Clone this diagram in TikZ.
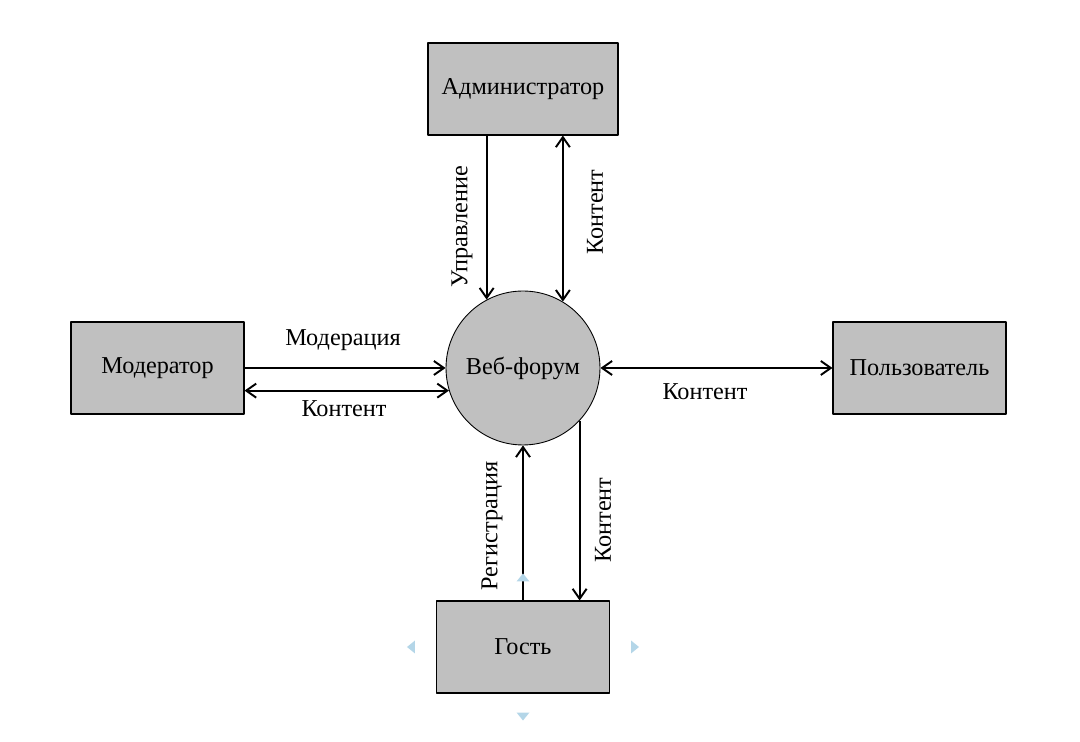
\documentclass[tikz,border=0pt]{standalone}
\usepackage{fontspec}
\setmainfont{Liberation Serif}
\usetikzlibrary{arrows.meta}
\definecolor{boxgray}{RGB}{192,192,192}
\definecolor{handleblue}{RGB}{180,214,232}
\begin{document}
\begin{tikzpicture}[x=0.02cm, y=-0.02cm, font=\fontsize{13.8}{16}\selectfont, line join=round,
	>={Straight Barb[length=2mm,width=2.8mm]},
	actor/.style={draw, fill=boxgray, minimum width=3.46cm, minimum height=1.84cm, line width=0.6pt},
	flow/.style={line width=1.1pt},
	lbl/.style={rotate=90}]
		\useasboundingbox (0,0) rectangle (1080,742);
		\node[actor, minimum width=3.8cm] (admin) at (523,89) {Администратор};
		\node[actor] (moder) at (157.5,368) {Модератор};
		\node[actor] (user) at (919.5,368) {Пользователь};
		\node[actor] (guest) at (523,647) {Гость};
		\node[circle, draw, fill=boxgray, minimum size=3.08cm, inner sep=0pt, line width=0.5pt] (forum) at (523,368) {Веб-форум};
		\draw[flow,->] (admin.south -| forum.118.7) -- (forum.118.7);
		\draw[flow,<->] (admin.south -| forum.59.6) -- (forum.59.6);
		\draw[flow,->] (moder.east) -- (forum.west);
		\draw[flow,<->] (moder.east |- forum.197.4) -- (forum.197.4);
		\draw[flow,<->] (forum.east) -- (user.west);
		\draw[flow,->] (guest.north) -- (forum.south);
		\draw[flow,->] (forum.-43.3) -- (guest.north -| forum.-43.3);
		\node[lbl] (lupr) at (462,227) {Управление};
		\node[lbl] (lkadm) at (595,212) {Контент};
		\node (lmod) at (343,340) {Модерация};
		\node (lkmod) at (344,409) {Контент};
		\node (lkuser) at (705,392) {Контент};
		\node[lbl] (lreg) at (492,526) {Регистрация};
		\node[lbl] (lkguest) at (603,520) {Контент};
		\path
		(guest.north)+(0,-23) coordinate (hn)
		(guest.west)+(-25,0) coordinate (hw)
		(guest.east)+(25,0) coordinate (he)
		(guest.south)+(0,23) coordinate (hs)
		;
		\foreach \x/\a in {hn/90,hw/180,he/0,hs/-90}\fill[handleblue,shift={(\x)},rotate=\a] (4,0)--(-4,6.5)--(-4,-6.5)--cycle;
\end{tikzpicture}
\end{document}
